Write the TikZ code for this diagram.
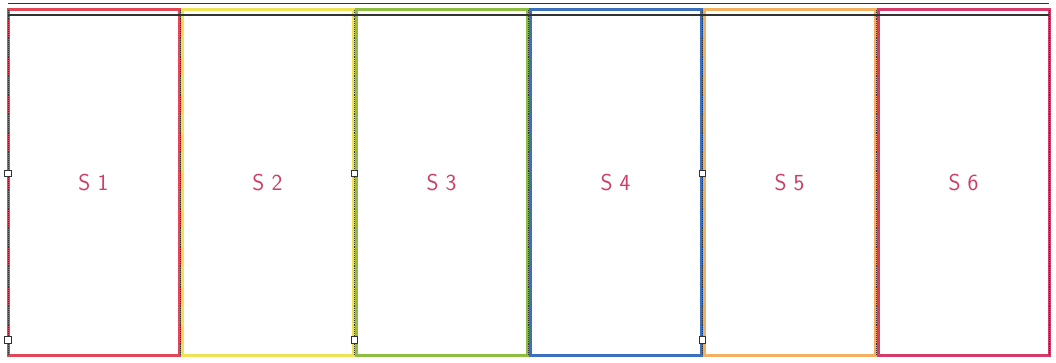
\documentclass[tikz,border=0pt]{standalone}
\usepackage{tikz}
\usetikzlibrary{positioning, calc}
\usepackage{xcolor}
\definecolor{PR}{RGB}{226,70,88}
\definecolor{PY}{RGB}{238,226,86}
\definecolor{PG}{RGB}{142,190,64}
\definecolor{PB}{RGB}{58,112,190}
\definecolor{PO}{RGB}{242,176,96}
\definecolor{PM}{RGB}{214,58,104}
\definecolor{TX}{RGB}{206,62,102}
\definecolor{DG}{RGB}{50,50,50}
\begin{document}
\begin{tikzpicture}[x=1pt, y=-1pt,
  panel/.style={draw=#1, line width=3pt, fill=white, outer sep=0pt, inner sep=0pt,
                minimum width=171pt, minimum height=345pt,
                font=\sffamily\fontsize{23}{27}\selectfont, text=TX},
  seam/.style={densely dotted, line width=0.9pt, draw=DG},
  rim/.style={line width=1.4pt, draw=DG},
  hnd/.style={draw=DG, fill=white, line width=0.8pt, minimum size=6.5pt, inner sep=0pt}
]
\useasboundingbox (0,0) rectangle (1056,363);

\node[panel=PR] (s1) at (93.5,182.5) {S 1};
\node[panel=PY, right=3pt of s1] (s2) {S 2};
\node[panel=PG, right=3pt of s2] (s3) {S 3};
\node[panel=PB, right=3pt of s3] (s4) {S 4};
\node[panel=PO, right=3pt of s4] (s5) {S 5};
\node[panel=PM, right=3pt of s5] (s6) {S 6};

% double black rim along the top
\draw[rim] ([yshift=6.5pt]s1.north west) -- ([yshift=6.5pt]s6.north east);
\draw[rim] ([yshift=-5pt]s1.north west) -- ([yshift=-5pt]s6.north east);

% dotted seams between the panels
\draw[seam] (s1.north west) -- (s1.south west);
\draw[seam] ($(s1.north east)!0.5!(s2.north west)$) -- ($(s1.south east)!0.5!(s2.south west)$);
\draw[seam] ($(s2.north east)!0.5!(s3.north west)$) -- ($(s2.south east)!0.5!(s3.south west)$);
\draw[seam] ($(s3.north east)!0.5!(s4.north west)$) -- ($(s3.south east)!0.5!(s4.south west)$);
\draw[seam] ($(s4.north east)!0.5!(s5.north west)$) -- ($(s4.south east)!0.5!(s5.south west)$);
\draw[seam] ($(s5.north east)!0.5!(s6.north west)$) -- ($(s5.south east)!0.5!(s6.south west)$);
\draw[seam] (s6.north east) -- (s6.south east);

% handles
\node[hnd] (h1) at ([yshift=9pt]s1.west) {};
\node[hnd] (h2) at ([yshift=15pt]s1.south west) {};
\node[hnd] (h3) at ($(s2.east)!0.5!(s3.west)+(0,9pt)$) {};
\node[hnd] (h4) at ($(s2.south east)!0.5!(s3.south west)+(0,15pt)$) {};
\node[hnd] (h5) at ($(s4.east)!0.5!(s5.west)+(0,9pt)$) {};
\node[hnd] (h6) at ($(s4.south east)!0.5!(s5.south west)+(0,15pt)$) {};
\end{tikzpicture}
\end{document}
